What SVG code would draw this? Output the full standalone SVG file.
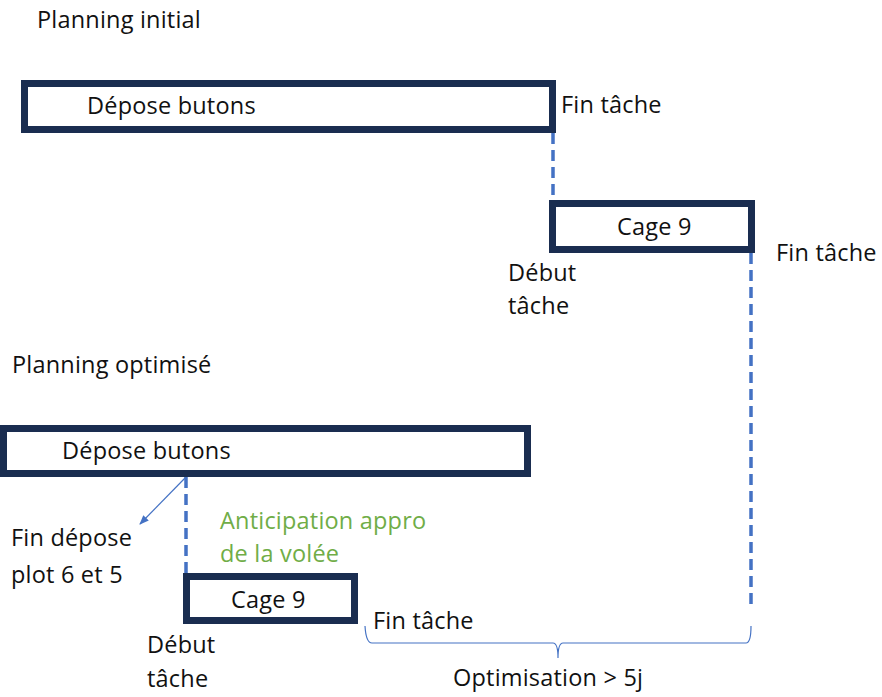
<svg xmlns="http://www.w3.org/2000/svg" width="882" height="697" viewBox="0 0 882 697">
  <style>
    text { font-family: "Open Sans", "Liberation Sans", Arial, sans-serif; font-size: 23.5px; letter-spacing: 0.2px; fill: #111; }
    .green { fill: #70AD47; }
    .task { fill: #fff; stroke: #1A2D50; stroke-width: 7; }
    .dash { fill: none; stroke: #4472C4; stroke-width: 3.5; stroke-dasharray: 11 6; }
    .thin { fill: none; stroke: #4472C4; stroke-width: 1.2; }
  </style>
  <defs>
    <marker id="arrow" viewBox="0 0 10 10" refX="9" refY="5" markerWidth="8" markerHeight="8" orient="auto">
      <path d="M0,1 L10,5 L0,9 Z" fill="#4472C4"/>
    </marker>
  </defs>
  <rect width="882" height="697" fill="#fff"/>

  <text x="37" y="28">Planning initial</text>
  <text x="12" y="373">Planning optimisé</text>

  <g id="connectors">
    <path class="dash" d="M553,133 V200"/>
    <path class="dash" d="M751,253 V605"/>
    <path class="dash" d="M186,477 V573"/>
    <path class="thin" d="M186,477 L140,524" marker-end="url(#arrow)"/>
    <path class="thin" d="M365,626 Q366,643 372,643 H553 Q558,643 558,658 Q558,643 563,643 H746 Q751,643 751,626"/>
  </g>

  <g id="depose-initial">
    <rect class="task" x="24.5" y="83.5" width="528" height="46"/>
    <text x="87" y="114">Dépose butons</text>
  </g>
  <g id="cage-initial">
    <rect class="task" x="552.5" y="203.5" width="199" height="46"/>
    <text x="617" y="235">Cage 9</text>
  </g>
  <g id="depose-optimise">
    <rect class="task" x="3.5" y="428.5" width="524" height="45"/>
    <text x="62" y="459">Dépose butons</text>
  </g>
  <g id="cage-optimise">
    <rect class="task" x="186.5" y="576.5" width="168" height="44"/>
    <text x="231" y="608">Cage 9</text>
  </g>

  <text x="561" y="113">Fin tâche</text>
  <text x="776" y="261">Fin tâche</text>
  <text x="508" y="281">Début</text>
  <text x="508" y="314">tâche</text>
  <text x="11" y="546">Fin dépose</text>
  <text x="11" y="583">plot 6 et 5</text>
  <text class="green" x="220" y="529">Anticipation appro</text>
  <text class="green" x="220" y="562">de la volée</text>
  <text x="373" y="629">Fin tâche</text>
  <text x="147" y="653">Début</text>
  <text x="147" y="687">tâche</text>
  <text x="453" y="686">Optimisation &gt; 5j</text>
</svg>
